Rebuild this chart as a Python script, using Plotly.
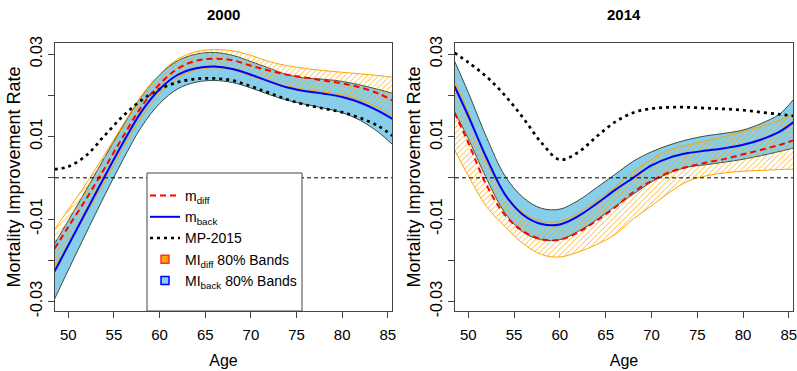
import plotly.graph_objects as go

# ---------------- data ----------------
ages = [48.5, 50, 52, 54, 56, 58, 60, 62, 64, 66, 68, 70, 72, 74, 76, 78, 80, 82, 84, 85.5]

# Panel 2000
mdiff_2000 = [-0.0172, -0.0119, -0.0050, 0.0024, 0.0100, 0.0172, 0.0227, 0.0265, 0.0284, 0.0289,
              0.0285, 0.0272, 0.0260, 0.0250, 0.0243, 0.0236, 0.0229, 0.0219, 0.0204, 0.0188]
mback_2000 = [-0.0227, -0.0164, -0.0080, 0.0004, 0.0085, 0.0160, 0.0215, 0.0250, 0.0266, 0.0270,
              0.0264, 0.0250, 0.0234, 0.0219, 0.0210, 0.0204, 0.0196, 0.0182, 0.0162, 0.0143]
mp2015_2000 = [0.0021, 0.0027, 0.0055, 0.0103, 0.0150, 0.0188, 0.0215, 0.0232, 0.0240, 0.0241,
               0.0236, 0.0222, 0.0206, 0.0190, 0.0177, 0.0168, 0.0159, 0.0145, 0.0125, 0.0102]
back_hi_2000 = [-0.0160, -0.0104, -0.0028, 0.0050, 0.0126, 0.0197, 0.0250, 0.0284, 0.0300, 0.0304,
                0.0297, 0.0282, 0.0266, 0.0250, 0.0242, 0.0239, 0.0234, 0.0225, 0.0214, 0.0205]
back_lo_2000 = [-0.0294, -0.0224, -0.0132, -0.0042, 0.0044, 0.0123, 0.0180, 0.0216, 0.0232, 0.0236,
                0.0231, 0.0218, 0.0202, 0.0188, 0.0178, 0.0169, 0.0158, 0.0139, 0.0110, 0.0081]
diff_hi_2000 = [-0.0125, -0.0077, -0.0013, 0.0057, 0.0129, 0.0198, 0.0251, 0.0288, 0.0306, 0.0311,
                0.0308, 0.0297, 0.0282, 0.0272, 0.0265, 0.0260, 0.0256, 0.0252, 0.0248, 0.0244]
diff_lo_2000 = [-0.0219, -0.0161, -0.0087, -0.0009, 0.0071, 0.0146, 0.0203, 0.0242, 0.0262, 0.0267,
                0.0262, 0.0247, 0.0233, 0.0222, 0.0214, 0.0208, 0.0201, 0.0188, 0.0170, 0.0150]

# Panel 2014
mdiff_2014 = [0.0158, 0.0085, -0.0018, -0.0090, -0.0130, -0.0149, -0.0150, -0.0132, -0.0104, -0.0072,
              -0.0035, -0.0008, 0.0014, 0.0027, 0.0037, 0.0046, 0.0057, 0.0068, 0.0080, 0.0091]
mback_2014 = [0.0222, 0.0150, 0.0048, -0.0040, -0.0090, -0.0112, -0.0113, -0.0093, -0.0063, -0.0030,
              0.0000, 0.0030, 0.0049, 0.0060, 0.0066, 0.0072, 0.0080, 0.0093, 0.0112, 0.0135]
mp2015_2014 = [0.0303, 0.0280, 0.0245, 0.0200, 0.0145, 0.0085, 0.0044, 0.0062, 0.0100, 0.0135,
               0.0158, 0.0168, 0.0171, 0.0171, 0.0169, 0.0167, 0.0164, 0.0159, 0.0154, 0.0150]
back_hi_2014 = [0.0283, 0.0207, 0.0098, 0.0005, -0.0048, -0.0074, -0.0076, -0.0055, -0.0024, 0.0008,
                0.0040, 0.0063, 0.0080, 0.0093, 0.0102, 0.0108, 0.0116, 0.0132, 0.0155, 0.0190]
back_lo_2014 = [0.0160, 0.0095, -0.0002, -0.0085, -0.0132, -0.0150, -0.0150, -0.0130, -0.0102, -0.0070,
                -0.0040, -0.0010, 0.0012, 0.0026, 0.0032, 0.0038, 0.0045, 0.0054, 0.0064, 0.0072]
diff_hi_2014 = [0.0237, 0.0160, 0.0040, -0.0040, -0.0085, -0.0105, -0.0105, -0.0085, -0.0055, -0.0022,
                0.0015, 0.0045, 0.0068, 0.0080, 0.0090, 0.0100, 0.0112, 0.0125, 0.0140, 0.0155]
diff_lo_2014 = [0.0068, 0.0005, -0.0070, -0.0118, -0.0160, -0.0186, -0.0192, -0.0180, -0.0162, -0.0138,
                -0.0100, -0.0068, -0.0035, -0.0008, 0.0005, 0.0012, 0.0016, 0.0018, 0.0020, 0.0021]

panel_titles = ["2000", "2014"]
x_ticks = [50, 55, 60, 65, 70, 75, 80, 85]
y_ticks = [-0.03, -0.01, 0.01, 0.03]
y_ticktext = ["-0.03", "-0.01", "0.01", "0.03"]

# ---------------- styling ----------------
FONT = "Liberation Sans, Arial, sans-serif"
SKY = "#87CEEB"
ORANGE = "#FFA500"
BAND_EDGE = "#3B4A3F"

fig = go.Figure()

panels = [
    ("x", "y", mdiff_2000, mback_2000, mp2015_2000, back_lo_2000, back_hi_2000, diff_lo_2000, diff_hi_2000, True),
    ("x2", "y2", mdiff_2014, mback_2014, mp2015_2014, back_lo_2014, back_hi_2014, diff_lo_2014, diff_hi_2014, False),
]

for xa, ya, md, mb, mp, blo, bhi, dlo, dhi, leg in panels:
    # MI_back band (sky blue, dark border)
    fig.add_trace(go.Scatter(x=ages, y=blo, xaxis=xa, yaxis=ya, mode="lines",
                             line=dict(color=BAND_EDGE, width=1, shape="spline"),
                             showlegend=False, hoverinfo="skip"))
    fig.add_trace(go.Scatter(x=ages, y=bhi, xaxis=xa, yaxis=ya, mode="lines",
                             line=dict(color=BAND_EDGE, width=1, shape="spline"),
                             fill="tonexty", fillcolor=SKY,
                             showlegend=False, hoverinfo="skip"))
    # MI_diff band (orange hatching)
    fig.add_trace(go.Scatter(x=ages, y=dlo, xaxis=xa, yaxis=ya, mode="lines",
                             line=dict(color=ORANGE, width=1, shape="spline"),
                             showlegend=False, hoverinfo="skip"))
    fig.add_trace(go.Scatter(x=ages, y=dhi, xaxis=xa, yaxis=ya, mode="lines",
                             line=dict(color=ORANGE, width=1, shape="spline"),
                             fill="tonexty", fillcolor="rgba(0,0,0,0)",
                             fillpattern=dict(shape="/", fgcolor=ORANGE, bgcolor="rgba(0,0,0,0)",
                                              size=4, solidity=0.2, fillmode="replace"),
                             showlegend=False, hoverinfo="skip"))
    # lines
    fig.add_trace(go.Scatter(x=ages, y=mp, xaxis=xa, yaxis=ya, mode="lines",
                             line=dict(color="black", width=2.7, dash="3px,4px", shape="spline"),
                             name="MP-2015", legendrank=3, showlegend=leg))
    fig.add_trace(go.Scatter(x=ages, y=md, xaxis=xa, yaxis=ya, mode="lines",
                             line=dict(color="#FF0000", width=2, dash="6px,4px", shape="spline"),
                             name="m<sub>diff</sub>", legendrank=1, showlegend=leg))
    fig.add_trace(go.Scatter(x=ages, y=mb, xaxis=xa, yaxis=ya, mode="lines",
                             line=dict(color="#0000FF", width=2, shape="spline"),
                             name="m<sub>back</sub>", legendrank=2, showlegend=leg))

# legend-only entries for the bands
fig.add_trace(go.Scatter(x=[None], y=[None], mode="markers", xaxis="x", yaxis="y",
                         marker=dict(symbol="square", size=8, color=ORANGE, line=dict(color="#FF3030", width=1.5)),
                         name="MI<sub>diff</sub> 80% Bands", legendrank=4))
fig.add_trace(go.Scatter(x=[None], y=[None], mode="markers", xaxis="x", yaxis="y",
                         marker=dict(symbol="square", size=8, color=SKY, line=dict(color="#0000FF", width=1.5)),
                         name="MI<sub>back</sub> 80% Bands", legendrank=5))

axis_common = dict(showline=True, mirror=True, linecolor="#444", linewidth=1, automargin=False,
                   ticks="outside", ticklen=6, tickcolor="#444", showgrid=False, zeroline=False,
                   ticklabeloverflow="allow")

xax = dict(axis_common, range=[48.55, 85.45], tickvals=x_ticks, ticklabelstandoff=4,
           tickfont=dict(family=FONT, size=15, color="black"),
           title=dict(text="Age", font=dict(family=FONT, size=16, color="black"), standoff=12))
yax = dict(axis_common, range=[-0.0323, 0.0327], tickvals=y_ticks, ticktext=y_ticktext, tickangle=-90,
           minor=dict(dtick=0.01, tick0=0, ticks="outside", ticklen=6, tickcolor="#444", showgrid=False),
           ticklabelstandoff=0, tickfont=dict(family=FONT, size=16, color="black"),
           title=dict(text="Mortality Improvement Rate", font=dict(family=FONT, size=18, color="black"),
                      standoff=2))

fig.update_layout(
    width=797, height=371,
    margin=dict(l=55, r=4, t=43, b=60, autoexpand=False),
    paper_bgcolor="white", plot_bgcolor="white",
    font=dict(family=FONT, size=14, color="black"),
    xaxis=dict(xax, domain=[0, 0.4566], anchor="y"),
    yaxis=dict(yax, domain=[0, 1], anchor="x"),
    xaxis2=dict(xax, domain=[0.542, 1], anchor="y2"),
    yaxis2=dict(yax, domain=[0, 1], anchor="x2"),
    showlegend=True,
    legend=dict(x=(145 - 55) / 738, xanchor="left", y=(311 - 180) / 268, yanchor="top",
                bgcolor="rgba(0,0,0,0)", borderwidth=0,
                font=dict(family=FONT, size=14, color="black"),
                traceorder="normal", itemwidth=30, tracegroupgap=0),
)

# zero reference lines
for xd, yr in [("x domain", "y"), ("x2 domain", "y2")]:
    fig.add_shape(type="line", xref=xd, yref=yr, x0=0, x1=1, y0=0, y1=0,
                  line=dict(color="black", width=1, dash="4px,3px"), layer="above")

# legend frame (white, opaque)
fig.add_shape(type="rect", xref="paper", yref="paper",
              x0=(147 - 55) / 738, x1=(302 - 55) / 738, y0=0, y1=(311 - 173) / 268,
              fillcolor="white", line=dict(color="#444", width=1), layer="above")

# panel titles
for xd, t in [("x domain", panel_titles[0]), ("x2 domain", panel_titles[1])]:
    fig.add_annotation(xref=xd, yref="paper", x=0.5, y=1 + 28 / 268, text="<b>%s</b>" % t,
                       showarrow=False, yanchor="middle",
                       font=dict(family=FONT, size=15, color="black"))

fig.write_html("out.html", config={"displayModeBar": False},
               post_script="document.body.style.margin='0';document.body.style.overflow='hidden';")
